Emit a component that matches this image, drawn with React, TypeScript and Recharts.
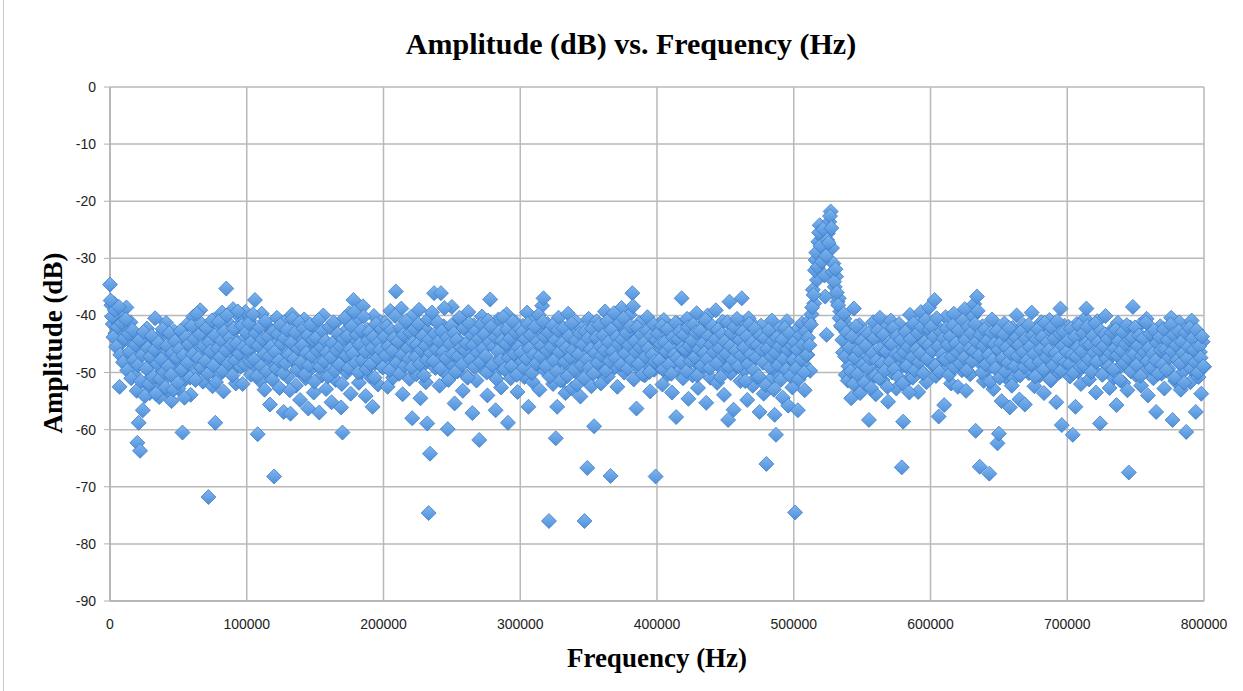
import { ScatterChart, Scatter, XAxis, YAxis, CartesianGrid } from 'recharts';

// FFT bin spacing in Hz; each array holds one 100 kHz span of amplitudes (dB)
const binHz = 1000;
const segmentHz = 100000;

// amplitudes on whole-kHz bins
const amp000k = [
  -34.6, -38.2, -41.5, -37.9, -43.1, -40.6, -45.2, -52.5, -39.8, -44.7,
  -47.3, -42.0, -38.6, -46.8, -49.5, -41.2, -44.9, -50.3, -43.7, -48.1,
  -62.3, -58.8, -63.7, -46.2, -56.6, -45.4, -51.8, -42.3, -49.0, -53.6,
  -44.1, -47.9, -52.2, -40.5, -50.7, -45.8, -54.3, -48.6, -43.2, -51.4,
  -46.5, -41.3, -53.1, -49.2, -44.6, -55.0, -47.4, -42.8, -50.9, -45.1,
  -52.8, -48.3, -43.9, -60.5, -46.7, -51.2, -41.7, -49.8, -44.4, -53.9,
  -47.0, -40.2, -50.1, -45.6, -42.5, -48.8, -39.1, -46.3, -51.6, -43.5,
  -49.4, -41.9, -71.8, -47.6, -44.0, -52.4, -40.8, -58.8, -45.9, -50.6,
  -42.7, -48.2, -39.5, -53.3, -44.8, -35.3, -47.1, -41.4, -50.0, -43.6,
  -38.9, -46.0, -51.9, -42.1, -48.7, -40.3, -45.3, -52.0, -44.2, -39.4,
];

const amp100k = [
  -43.0, -47.5, -40.9, -50.4, -45.7, -42.2, -37.3, -48.9, -60.8, -44.3,
  -51.5, -39.7, -46.1, -53.0, -41.6, -48.4, -44.5, -55.6, -42.9, -50.2,
  -68.2, -45.0, -40.4, -49.1, -52.7, -43.4, -47.8, -56.9, -41.1, -46.6,
  -50.8, -44.1, -57.2, -39.9, -48.0, -45.5, -52.3, -42.6, -49.7, -54.8,
  -43.8, -47.2, -40.7, -51.0, -46.4, -56.3, -42.4, -49.3, -44.7, -53.5,
  -41.8, -48.5, -45.9, -57.0, -43.3, -50.5, -40.0, -47.0, -52.9, -44.9,
  -49.6, -42.0, -55.2, -46.9, -41.5, -51.3, -45.1, -48.1, -43.7, -56.1,
  -60.5, -47.7, -42.8, -50.0, -45.3, -39.6, -53.7, -44.2, -37.3, -48.6,
  -41.0, -46.2, -51.8, -43.9, -49.9, -38.4, -45.4, -54.1, -42.5, -47.3,
  -50.7, -44.6, -56.0, -40.1, -48.3, -43.1, -52.1, -46.5, -41.2, -49.0,
];

const amp200k = [
  -45.8, -41.3, -48.8, -52.5, -43.6, -39.2, -47.1, -50.9, -44.0, -35.8,
  -46.3, -42.7, -49.5, -38.8, -53.8, -44.8, -41.6, -48.0, -45.2, -51.1,
  -40.3, -58.0, -47.4, -43.4, -50.3, -46.0, -39.0, -54.5, -44.4, -48.7,
  -42.2, -51.7, -58.9, -74.6, -64.2, -45.6, -40.6, -36.1, -49.2, -43.0,
  -47.6, -52.3, -36.1, -44.5, -41.9, -50.1, -46.8, -59.9, -42.9, -48.4,
  -38.5, -45.0, -55.4, -41.4, -49.8, -44.3, -47.9, -40.8, -53.2, -46.1,
  -42.4, -50.6, -39.4, -48.2, -44.7, -57.1, -41.7, -46.7, -51.4, -43.5,
  -61.8, -47.2, -40.2, -49.4, -45.7, -42.1, -54.0, -44.1, -37.2, -48.9,
  -43.2, -50.4, -56.6, -45.3, -40.7, -47.5, -52.6, -42.8, -49.1, -44.9,
  -39.8, -58.8, -46.4, -51.0, -43.8, -48.5, -41.1, -45.9, -53.4, -47.0,
];

const amp300k = [
  -44.6, -48.1, -41.8, -50.8, -45.4, -39.5, -56.0, -47.3, -43.3, -51.6,
  -46.2, -40.9, -48.6, -44.2, -53.0, -42.0, -38.3, -37.0, -49.7, -45.1,
  -41.5, -76.0, -47.8, -43.9, -52.0, -46.5, -61.5, -56.0, -40.4, -48.0,
  -44.0, -51.3, -42.6, -53.6, -46.9, -39.7, -49.3, -45.5, -52.8, -43.1,
  -47.5, -41.2, -50.2, -44.8, -54.2, -42.3, -48.3, -76.0, -45.2, -66.7,
  -40.6, -47.0, -52.4, -43.7, -59.4, -46.0, -41.0, -49.9, -44.3, -51.9,
  -42.9, -48.8, -39.3, -46.6, -50.7, -43.4, -68.1, -45.7, -40.1, -49.1,
  -44.6, -52.5, -41.6, -47.7, -38.7, -45.0, -50.0, -42.4, -48.4, -44.1,
  -39.9, -46.8, -36.1, -51.2, -43.0, -56.3, -47.2, -41.3, -49.6, -45.3,
  -42.7, -50.5, -44.9, -40.3, -48.2, -53.3, -46.3, -42.1, -49.5, -68.2,
];

const amp400k = [
  -45.9, -41.7, -49.0, -44.4, -52.1, -40.8, -47.6, -43.5, -50.3, -46.4,
  -42.5, -53.5, -48.7, -44.0, -57.8, -41.4, -49.8, -45.6, -37.0, -51.0,
  -43.8, -47.1, -40.6, -54.6, -46.1, -42.8, -50.5, -44.5, -48.1, -39.6,
  -52.7, -45.1, -41.9, -49.4, -43.2, -47.8, -55.3, -40.0, -46.7, -50.9,
  -42.2, -48.5, -44.8, -39.1, -51.8, -46.2, -43.0, -49.2, -41.1, -53.9,
  -45.4, -47.4, -58.3, -37.6, -50.1, -44.2, -56.5, -42.6, -48.9, -46.0,
  -41.6, -51.5, -37.0, -45.8, -49.6, -43.7, -54.8, -40.5, -47.9, -44.4,
  -52.3, -46.6, -42.0, -50.8, -45.0, -56.9, -41.8, -48.0, -53.7, -43.4,
  -66.0, -47.2, -44.1, -51.2, -40.9, -49.3, -57.4, -60.9, -45.5, -42.4,
  -50.6, -46.9, -54.4, -43.1, -48.6, -41.0, -55.8, -47.5, -44.7, -52.6,
];

const amp500k = [
  -47.8, -74.5, -42.6, -56.6, -45.3, -50.2, -41.4, -48.4, -53.1, -44.0,
  -46.9, -41.0, -49.7, -39.8, -35.5, -37.9, -30.3, -33.8, -27.1, -24.2,
  -28.5, -26.4, -30.1, -36.7, -43.4, -25.6, -23.6, -21.8, -28.2, -30.9,
  -35.0, -33.2, -37.6, -37.0, -39.3, -42.0, -46.5, -40.6, -50.4, -44.7,
  -48.9, -42.3, -54.5, -46.8, -38.8, -51.6, -44.1, -49.0, -41.7, -53.3,
  -45.9, -47.7, -42.9, -52.2, -48.3, -58.3, -44.6, -50.7, -41.2, -47.0,
  -53.8, -43.6, -49.5, -40.4, -46.3, -51.3, -44.2, -48.1, -42.0, -55.1,
  -45.7, -40.9, -50.0, -47.3, -43.3, -52.8, -46.0, -41.5, -49.1, -66.6,
  -58.6, -44.9, -48.8, -42.5, -51.1, -39.9, -46.7, -50.9, -43.8, -47.6,
  -41.3, -53.4, -45.2, -39.4, -49.9, -44.3, -47.1, -51.7, -42.7, -38.6,
];

const amp600k = [
  -43.9, -48.6, -41.1, -37.3, -50.6, -45.0, -57.7, -42.4, -47.9, -44.5,
  -55.7, -40.3, -49.3, -46.1, -42.9, -51.9, -45.6, -39.7, -48.2, -43.7,
  -52.5, -46.4, -41.6, -49.6, -44.8, -38.9, -53.2, -47.1, -42.1, -50.3,
  -45.5, -40.2, -38.0, -60.2, -36.7, -44.0, -66.5, -48.5, -41.9, -51.5,
  -46.6, -43.1, -49.4, -67.7, -45.8, -40.7, -52.9, -47.5, -42.8, -62.4,
  -60.7, -44.3, -55.0, -48.0, -41.4, -50.8, -45.2, -43.5, -56.1, -47.8,
  -42.2, -51.0, -45.9, -40.0, -49.0, -54.7, -44.1, -47.4, -41.7, -55.6,
  -46.2, -43.0, -50.1, -45.1, -39.5, -48.7, -52.4, -42.6, -46.9, -44.6,
  -50.5, -41.2, -47.7, -53.6, -43.3, -49.2, -45.4, -40.8, -51.4, -46.0,
  -42.5, -48.3, -55.2, -44.4, -50.0, -38.8, -59.2, -45.7, -41.8, -49.7,
];

const amp700k = [
  -46.3, -42.0, -50.7, -44.7, -60.9, -47.6, -56.0, -41.5, -49.8, -45.3,
  -52.0, -43.6, -48.4, -40.5, -38.8, -46.8, -51.2, -44.2, -42.4, -49.5,
  -45.0, -53.5, -41.0, -47.4, -58.9, -43.8, -50.3, -46.1, -40.1, -48.8,
  -44.5, -52.7, -42.7, -47.0, -50.9, -45.6, -55.7, -41.3, -49.1, -46.7,
  -43.2, -51.8, -47.8, -44.9, -53.1, -67.5, -42.1, -48.1, -38.5, -45.8,
  -50.4, -43.4, -47.2, -41.7, -52.3, -46.5, -44.0, -49.6, -40.6, -54.0,
  -45.1, -48.9, -42.9, -51.0, -46.2, -56.9, -43.1, -47.7, -41.9, -50.2,
  -44.8, -52.8, -47.3, -42.3, -49.3, -45.5, -40.4, -58.3, -46.9, -51.5,
  -43.7, -48.0, -41.2, -53.0, -45.7, -49.8, -42.6, -60.4, -47.5, -44.1,
  -51.7, -40.9, -48.6, -45.2, -56.9, -42.8, -50.8, -46.4, -53.7, -44.6,
];

const amp800k = [-49.0];

// amplitudes on the half-kHz bins in between
const half000k = [
  -37.4, -40.2, -43.8, -39.1, -45.5, -42.0, -38.5, -46.9, -41.3, -48.2,
  -44.0, -40.7, -49.6, -43.2, -46.4, -51.0, -42.6, -47.8, -45.1, -53.2,
  -48.7, -44.3, -51.5, -46.9, -42.9, -54.1, -49.3, -45.7, -52.0, -47.2,
  -43.6, -50.8, -46.0, -53.7, -48.5, -44.8, -51.1, -47.7, -42.4, -49.9,
  -52.6, -45.3, -48.9, -43.1, -50.4, -46.6, -53.0, -44.5, -47.4, -51.8,
  -45.9, -42.7, -49.5, -47.0, -54.4, -43.8, -48.3, -45.0, -50.9, -41.9,
  -46.8, -44.1, -51.3, -39.7, -47.5, -43.3, -49.1, -41.6, -45.4, -48.0,
  -42.2, -50.2, -44.7, -46.3, -40.9, -48.8, -43.5, -51.7, -45.8, -41.1,
  -47.3, -44.4, -49.7, -42.8, -46.1, -40.0, -48.4, -43.9, -45.2, -50.5,
  -42.3, -47.9, -44.9, -39.3, -46.7, -49.0, -41.8, -45.6, -48.6, -43.0,
];

const half100k = [
  -46.0, -41.4, -48.1, -44.6, -39.8, -47.7, -43.1, -50.6, -45.3, -42.1,
  -48.9, -44.2, -46.8, -41.0, -49.8, -43.7, -47.2, -45.5, -51.2, -42.8,
  -46.4, -49.3, -43.3, -47.9, -41.7, -45.0, -50.1, -44.0, -48.4, -42.5,
  -46.9, -53.1, -44.8, -40.6, -47.6, -43.0, -49.5, -45.8, -41.3, -48.2,
  -45.2, -42.3, -50.3, -46.6, -43.5, -48.7, -41.6, -47.1, -44.3, -51.6,
  -43.9, -46.2, -40.8, -49.0, -45.6, -42.7, -48.0, -44.5, -46.5, -50.7,
  -42.0, -47.3, -44.9, -41.2, -49.7, -46.1, -43.2, -48.6, -45.4, -52.0,
  -44.1, -40.5, -47.0, -43.6, -49.2, -45.9, -41.9, -46.7, -39.4, -48.3,
  -43.4, -50.0, -45.1, -42.6, -47.8, -40.2, -46.3, -49.4, -44.4, -42.9,
  -48.5, -45.7, -43.8, -50.9, -41.5, -47.4, -44.7, -46.0, -42.4, -49.1,
];

const half200k = [
  -43.7, -47.0, -41.9, -45.4, -49.6, -42.6, -46.2, -44.0, -40.1, -48.3,
  -44.6, -50.2, -42.1, -46.9, -43.4, -48.8, -41.0, -45.7, -47.6, -43.0,
  -49.1, -44.8, -42.4, -47.3, -45.1, -41.5, -48.5, -46.0, -43.6, -50.5,
  -45.3, -47.8, -40.7, -44.2, -46.6, -39.5, -48.0, -43.2, -45.9, -41.2,
  -44.5, -49.3, -42.8, -46.4, -38.7, -47.5, -43.9, -51.3, -45.0, -41.8,
  -46.8, -43.1, -49.9, -44.3, -47.2, -40.4, -45.6, -48.6, -42.2, -46.1,
  -44.9, -50.9, -41.4, -47.7, -43.5, -45.2, -49.0, -42.7, -46.5, -44.1,
  -48.2, -41.6, -45.8, -43.3, -47.1, -50.0, -40.9, -44.7, -42.0, -48.7,
  -45.5, -43.8, -51.1, -46.3, -42.9, -47.9, -44.4, -40.3, -49.4, -45.0,
  -42.5, -47.4, -44.0, -48.9, -41.1, -46.7, -43.0, -50.4, -45.6, -42.3,
];

const half300k = [
  -46.5, -42.9, -49.2, -44.1, -47.6, -41.5, -45.8, -43.4, -50.1, -46.9,
  -42.0, -48.4, -44.6, -39.9, -47.1, -45.3, -41.1, -43.7, -48.9, -46.2,
  -43.0, -50.7, -45.5, -41.8, -47.9, -44.3, -49.8, -42.6, -46.4, -51.4,
  -44.9, -42.2, -48.1, -45.7, -50.6, -43.6, -47.3, -41.4, -46.0, -49.5,
  -44.4, -52.1, -46.8, -43.2, -48.7, -45.1, -51.0, -42.8, -47.7, -44.0,
  -49.1, -45.9, -42.3, -50.2, -46.6, -43.9, -48.3, -41.7, -45.4, -47.0,
  -43.5, -46.1, -49.7, -41.0, -44.7, -48.0, -42.5, -46.3, -39.6, -47.5,
  -43.8, -45.0, -41.3, -48.6, -44.2, -40.5, -46.7, -43.1, -49.3, -45.2,
  -41.9, -47.8, -38.4, -44.5, -46.4, -42.1, -48.5, -45.6, -43.3, -50.3,
  -44.8, -47.2, -42.7, -45.8, -49.9, -43.6, -46.9, -41.6, -48.1, -44.3,
];

const half400k = [
  -43.2, -47.9, -45.0, -41.8, -49.4, -44.7, -46.3, -42.4, -48.6, -45.5,
  -50.2, -43.8, -46.9, -41.3, -47.5, -44.1, -42.8, -48.2, -45.7, -43.4,
  -46.0, -49.8, -42.1, -45.3, -48.0, -44.4, -41.6, -47.3, -43.0, -50.5,
  -45.9, -42.7, -48.8, -44.9, -46.6, -40.8, -47.7, -43.6, -49.2, -45.1,
  -41.9, -46.4, -44.2, -48.4, -42.5, -45.8, -50.8, -43.3, -47.1, -44.6,
  -46.7, -41.2, -49.0, -45.4, -43.1, -47.8, -42.0, -46.2, -40.6, -48.9,
  -44.3, -47.0, -42.9, -45.6, -51.5, -43.7, -48.5, -41.5, -46.8, -44.8,
  -49.6, -42.3, -47.4, -45.2, -50.7, -43.5, -46.1, -48.3, -44.0, -52.2,
  -45.8, -42.6, -49.1, -47.2, -44.5, -53.0, -46.5, -43.9, -48.7, -45.4,
  -51.3, -44.2, -47.6, -42.2, -49.5, -46.0, -43.1, -50.6, -45.3, -47.8,
];

const half500k = [
  -44.6, -49.3, -46.0, -51.2, -43.5, -47.7, -45.1, -50.0, -42.8, -46.9,
  -43.9, -45.2, -41.6, -38.6, -36.4, -32.1, -29.0, -31.5, -25.5, -27.8,
  -30.6, -24.9, -33.0, -29.6, -26.8, -27.3, -22.6, -24.7, -32.4, -34.1,
  -31.9, -36.0, -38.2, -40.5, -41.8, -44.3, -39.7, -47.2, -43.0, -51.4,
  -45.6, -49.8, -43.7, -52.0, -47.4, -41.9, -50.3, -46.1, -53.6, -44.5,
  -48.6, -51.8, -45.3, -49.2, -43.2, -47.5, -52.7, -46.6, -44.0, -50.6,
  -47.9, -42.6, -51.0, -45.8, -48.4, -43.4, -49.7, -46.3, -52.5, -44.8,
  -48.1, -45.0, -42.2, -49.4, -46.8, -43.6, -50.8, -47.0, -44.3, -51.9,
  -46.4, -42.9, -48.9, -45.5, -53.5, -44.1, -47.3, -41.4, -49.6, -45.9,
  -43.1, -48.2, -46.7, -42.0, -50.1, -44.7, -40.8, -47.6, -45.2, -42.5,
];

const half600k = [
  -41.9, -46.2, -43.7, -48.8, -40.5, -45.4, -49.9, -42.9, -46.8, -44.0,
  -47.7, -42.3, -45.1, -50.4, -43.6, -47.2, -41.8, -49.1, -44.9, -46.5,
  -42.6, -48.4, -45.7, -40.9, -47.4, -44.3, -49.6, -42.0, -45.8, -43.1,
  -48.0, -46.3, -41.5, -44.6, -39.2, -47.0, -43.4, -50.0, -45.3, -42.5,
  -48.6, -44.4, -46.9, -51.6, -43.0, -47.8, -45.0, -49.3, -42.7, -46.0,
  -50.9, -44.8, -47.5, -43.3, -49.8, -45.6, -48.3, -42.2, -46.6, -52.3,
  -44.5, -48.9, -43.9, -47.1, -45.2, -50.5, -42.8, -46.4, -49.0, -44.1,
  -47.9, -41.7, -45.5, -48.5, -43.5, -46.7, -50.7, -44.2, -42.4, -48.1,
  -45.9, -43.8, -49.5, -41.3, -47.3, -44.7, -46.1, -51.2, -42.1, -48.7,
  -44.0, -46.6, -41.0, -47.6, -43.2, -49.7, -45.3, -42.9, -48.2, -46.4,
];

const half700k = [
  -44.4, -48.5, -42.3, -46.9, -50.1, -43.7, -47.2, -45.6, -41.8, -49.0,
  -46.3, -43.1, -48.8, -44.9, -42.0, -47.7, -45.1, -49.9, -43.6, -46.5,
  -41.4, -48.1, -44.7, -46.0, -42.7, -50.4, -45.4, -43.3, -47.6, -44.1,
  -48.9, -46.6, -43.0, -49.5, -45.8, -42.5, -47.0, -44.5, -51.3, -46.2,
  -42.9, -48.3, -45.0, -41.7, -47.4, -44.2, -49.8, -43.9, -46.8, -42.1,
  -48.7, -45.3, -43.5, -50.6, -47.1, -44.0, -46.4, -41.2, -48.0, -45.7,
  -43.2, -49.2, -46.7, -42.6, -47.9, -44.8, -50.2, -43.8, -46.1, -48.6,
  -42.4, -45.9, -49.6, -44.3, -47.3, -41.6, -46.3, -43.4, -50.9, -45.2,
  -47.8, -42.8, -48.4, -44.6, -46.6, -51.8, -43.0, -47.5, -45.5, -42.2,
  -49.3, -44.0, -46.0, -48.2, -42.6, -50.0, -45.4, -47.4, -43.7, -48.9,
];

const wholeBins = [amp000k, amp100k, amp200k, amp300k, amp400k, amp500k, amp600k, amp700k, amp800k];
const halfBins = [half000k, half100k, half200k, half300k, half400k, half500k, half600k, half700k];

const xTicks = [0, 100000, 200000, 300000, 400000, 500000, 600000, 700000, 800000];
const yTicks = [0, -10, -20, -30, -40, -50, -60, -70, -80, -90];

const data = [
  ...wholeBins.flatMap((seg, s) => seg.map((a, i) => ({ f: s * segmentHz + i * binHz, a }))),
  ...halfBins.flatMap((seg, s) => seg.map((a, i) => ({ f: s * segmentHz + i * binHz + binHz / 2, a }))),
];

const Diamond = (props: any) => {
  const { cx, cy } = props;
  if (cx == null || cy == null) return null;
  const r = 7.5;
  return (
    <polygon
      points={`${cx},${cy - r} ${cx + r},${cy} ${cx},${cy + r} ${cx - r},${cy}`}
      fill="url(#diamondFill)"
      stroke="#3d7cc6"
      strokeWidth={0.8}
    />
  );
};

const serif = '"Liberation Serif", "Times New Roman", serif';
const tickStyle = { fontSize: 14, fill: '#222', fontFamily: '"Liberation Sans", Arial, sans-serif' };

export default function App() {
  return (
    <div style={{ position: 'relative', width: 1243, height: 691, background: '#fff', overflow: 'hidden' }}>
      <style>{'body{margin:0}'}</style>
      <div style={{ position: 'absolute', left: 3, top: 0, width: 1, height: 691, background: '#c8c8c8' }} />
      <div
        style={{
          position: 'absolute', left: 0, top: 27, width: 1262, textAlign: 'center',
          fontFamily: serif, fontWeight: 'bold', fontSize: 30, color: '#000',
        }}
      >
        Amplitude (dB) vs. Frequency (Hz)
      </div>
      <ScatterChart width={1243} height={691} margin={{ top: 87, right: 39, bottom: 60, left: 50 }}>
        <defs>
          <linearGradient id="diamondFill" x1="0" y1="0" x2="0" y2="1">
            <stop offset="0%" stopColor="#7fb5ee" />
            <stop offset="100%" stopColor="#4f90da" />
          </linearGradient>
        </defs>
        <CartesianGrid stroke="#b9b9b9" strokeWidth={1.5} />
        <XAxis
          type="number"
          dataKey="f"
          domain={[0, 800000]}
          ticks={xTicks}
          interval={0}
          height={30}
          tick={tickStyle}
          tickLine={false}
          tickMargin={12}
          axisLine={{ stroke: '#b0b0b0', strokeWidth: 1.5 }}
        />
        <YAxis
          type="number"
          dataKey="a"
          domain={[-90, 0]}
          ticks={yTicks}
          interval={0}
          width={60}
          tick={tickStyle}
          tickSize={6}
          tickMargin={8}
          tickLine={{ stroke: '#b0b0b0' }}
          axisLine={{ stroke: '#b0b0b0', strokeWidth: 1.5 }}
        />
        <Scatter data={data} shape={<Diamond />} isAnimationActive={false} />
      </ScatterChart>
      <div
        style={{
          position: 'absolute', left: 0, top: 643, width: 1314, textAlign: 'center',
          fontFamily: serif, fontWeight: 'bold', fontSize: 27, color: '#000',
        }}
      >
        Frequency (Hz)
      </div>
      <div
        style={{
          position: 'absolute', left: 53, top: 343, width: 0, height: 0,
        }}
      >
        <div
          style={{
            position: 'absolute', left: -150, top: -16, width: 300, textAlign: 'center',
            transform: 'rotate(-90deg)', fontFamily: serif, fontWeight: 'bold', fontSize: 27,
            color: '#000', lineHeight: '32px',
          }}
        >
          Amplitude (dB)
        </div>
      </div>
    </div>
  );
}
